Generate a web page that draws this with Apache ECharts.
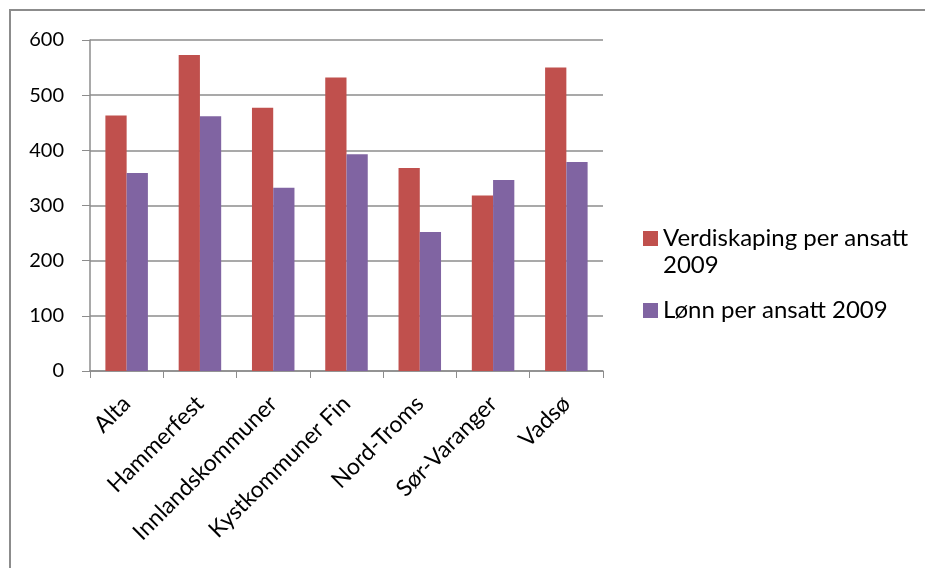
<!DOCTYPE html>
<html>
<head>
<meta charset="utf-8">
<script src="https://cdn.jsdelivr.net/npm/echarts@6/dist/echarts.min.js"></script>
<style>
  html, body { margin: 0; padding: 0; background: #fff; }
  #chart { width: 925px; height: 568px; }
</style>
</head>
<body>
<div id="chart"></div>
<script>
// kategorier og verdier lest av figuren
let kommuner = ['Alta', 'Hammerfest', 'Innlandskommuner', 'Kystkommuner Fin', 'Nord-Troms', 'Sør-Varanger', 'Vadsø'];
let verdiskaping = [463, 573, 477, 532, 368, 318, 550];
let lonn = [359, 462, 332, 393, 252, 346, 379];
let yTicks = [0, 100, 200, 300, 400, 500, 600];
let serieNavn = ['Verdiskaping per ansatt 2009', 'Lønn per ansatt 2009'];

let myChart = echarts.init(document.getElementById('chart'));
let fontName = 'Lato, "Open Sans", sans-serif';
let grey = '#8c8c8c';

let legendText = { fontFamily: fontName, fontSize: 24, color: '#000', lineHeight: 27 };

let option = {
    animation: false,
    graphic: [
        {
            type: 'rect',
            shape: { x: 10, y: 10, width: 940, height: 620 },
            style: { fill: 'none', stroke: grey, lineWidth: 2 }
        }
    ],
    grid: { left: 90, right: 322, top: 40, bottom: 197 },
    legend: [
        {
            // to linjer; en tom linje over gjør at ruten står ved første linje
            data: [serieNavn[0]],
            left: 643,
            top: 198,
            padding: 0,
            itemWidth: 15,
            itemHeight: 15,
            icon: 'rect',
            textStyle: Object.assign({
                rich: {
                    h: { height: 27, lineHeight: 27, fontSize: 24 },
                    a: { fontFamily: fontName, fontSize: 24, color: '#000', lineHeight: 27 }
                }
            }, legendText),
            formatter: function () {
                return '{h| }\n{a|Verdiskaping per ansatt}\n{a|2009}';
            }
        },
        {
            data: [serieNavn[1]],
            left: 643,
            top: 297,
            padding: 0,
            itemWidth: 15,
            itemHeight: 15,
            icon: 'rect',
            textStyle: legendText
        }
    ],
    xAxis: {
        type: 'category',
        data: kommuner,
        axisLine: { lineStyle: { color: grey, width: 1.5 } },
        axisTick: { show: true, length: 7, alignWithLabel: false, lineStyle: { color: grey } },
        axisLabel: {
            rotate: 45,
            interval: 0,
            margin: 29,
            fontFamily: fontName,
            fontSize: 23,
            color: '#000'
        }
    },
    yAxis: {
        type: 'value',
        min: yTicks[0],
        max: yTicks[yTicks.length - 1],
        interval: 100,
        axisLine: { show: true, lineStyle: { color: grey, width: 1.5 } },
        axisTick: { show: true, length: 8, lineStyle: { color: grey } },
        splitLine: { lineStyle: { color: grey, width: 1.5 } },
        axisLabel: { margin: 26, fontFamily: fontName, fontSize: 20, color: '#000' }
    },
    series: [
        {
            name: serieNavn[0],
            type: 'bar',
            data: verdiskaping,
            itemStyle: { color: '#C0504D' },
            barGap: '0%',
            barCategoryGap: '42%'
        },
        {
            name: serieNavn[1],
            type: 'bar',
            data: lonn,
            itemStyle: { color: '#8064A2' }
        }
    ]
};

myChart.setOption(option);
</script>
</body>
</html>
